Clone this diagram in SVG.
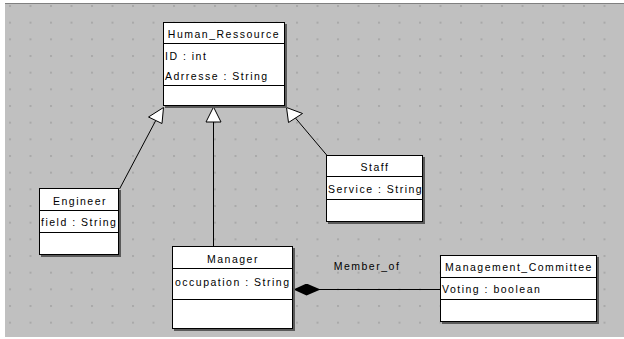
<svg xmlns="http://www.w3.org/2000/svg" width="624" height="339" viewBox="0 0 624 339">
  <defs>
    <pattern id="grid" x="9" y="5" width="20.5" height="16.667" patternUnits="userSpaceOnUse">
      <rect x="0" y="0" width="2" height="2" fill="#a9a9a9"/>
    </pattern>
    <marker id="diamond" markerWidth="30" markerHeight="14" refX="0" refY="6" orient="auto" markerUnits="userSpaceOnUse">
      <path d="M0,6 L13,0 L27,6 L13,12 Z" fill="#000"/>
    </marker>
  </defs>
  <style>
    .shadow { fill: #5a5a5a; }
    .box { fill: #fff; stroke: #000; stroke-width: 1; }
    .div { stroke: #000; stroke-width: 1; }
    .name { font-family: "Liberation Sans", Arial, sans-serif; font-size: 10.5px; letter-spacing: 1.5px; text-anchor: middle; fill: #000; }
    .attr { font-family: "Liberation Sans", Arial, sans-serif; font-size: 10.5px; letter-spacing: 1.5px; fill: #000; }
    .edge { fill: none; stroke: #000; stroke-width: 1; }
    .gen { fill: #fff; stroke: #000; stroke-width: 1; }
  </style>

  <!-- canvas -->
  <rect x="0" y="0" width="624" height="339" fill="#fff"/>
  <rect x="5" y="3" width="619" height="334" fill="#c0c0c0"/>
  <rect x="5" y="3" width="619" height="334" fill="url(#grid)"/>
  <line x1="5" y1="3.5" x2="624" y2="3.5" stroke="#808080" stroke-width="1"/>

  <!-- connectors -->
  <g id="connectors">
    <!-- Engineer -> Human_Ressource -->
    <line class="edge" x1="119.5" y1="189" x2="155.5" y2="121"/>
    <polygon class="gen" points="163.5,107.5 148.5,117 162,123.5"/>
    <!-- Manager -> Human_Ressource -->
    <line class="edge" x1="213.5" y1="122" x2="213.5" y2="247"/>
    <polygon class="gen" points="213.5,107 206,122 221,122"/>
    <!-- Staff -> Human_Ressource -->
    <line class="edge" x1="327.5" y1="156" x2="295" y2="117.5"/>
    <polygon class="gen" points="286.5,107.5 288.5,122.5 302.5,113.5"/>
    <!-- Manager <>- Management_Committee -->
    <line class="edge" x1="293.5" y1="289.5" x2="441" y2="289.5" marker-start="url(#diamond)"/>
    <text class="attr" x="367" y="270" text-anchor="middle">Member_of</text>
  </g>

  <g id="Human_Ressource">
    <rect class="shadow" x="165" y="24" width="122" height="84"/>
    <rect class="box" x="163.5" y="22.5" width="121" height="83"/>
    <line class="div" x1="163.5" y1="43.5" x2="284.5" y2="43.5"/>
    <line class="div" x1="163.5" y1="85.5" x2="284.5" y2="85.5"/>
    <text class="name" x="224" y="38">Human_Ressource</text>
    <text class="attr" x="165" y="60">ID : int</text>
    <text class="attr" x="165" y="80">Adrresse : String</text>
  </g>

  <g id="Engineer">
    <rect class="shadow" x="41" y="190" width="80" height="67"/>
    <rect class="box" x="39.5" y="188.5" width="79" height="66"/>
    <line class="div" x1="39.5" y1="210.5" x2="118.5" y2="210.5"/>
    <line class="div" x1="39.5" y1="232.5" x2="118.5" y2="232.5"/>
    <text class="name" x="80" y="205">Engineer</text>
    <text class="attr" x="41" y="226">field : String</text>
  </g>

  <g id="Staff">
    <rect class="shadow" x="328" y="157" width="97" height="67"/>
    <rect class="box" x="326.5" y="155.5" width="96" height="66"/>
    <line class="div" x1="326.5" y1="176.5" x2="422.5" y2="176.5"/>
    <line class="div" x1="326.5" y1="199.5" x2="422.5" y2="199.5"/>
    <text class="name" x="375" y="171">Staff</text>
    <text class="attr" x="328" y="193">Service : String</text>
  </g>

  <g id="Manager">
    <rect class="shadow" x="174" y="248" width="121" height="83"/>
    <rect class="box" x="172.5" y="246.5" width="120" height="82"/>
    <line class="div" x1="172.5" y1="268.5" x2="292.5" y2="268.5"/>
    <line class="div" x1="172.5" y1="299.5" x2="292.5" y2="299.5"/>
    <text class="name" x="233" y="263">Manager</text>
    <text class="attr" x="175" y="286">occupation : String</text>
  </g>

  <g id="Management_Committee">
    <rect class="shadow" x="442" y="257" width="157" height="67"/>
    <rect class="box" x="440.5" y="255.5" width="156" height="66"/>
    <line class="div" x1="440.5" y1="277.5" x2="596.5" y2="277.5"/>
    <line class="div" x1="440.5" y1="299.5" x2="596.5" y2="299.5"/>
    <text class="name" x="519" y="271">Management_Committee</text>
    <text class="attr" x="442" y="293">Voting : boolean</text>
  </g>
</svg>
